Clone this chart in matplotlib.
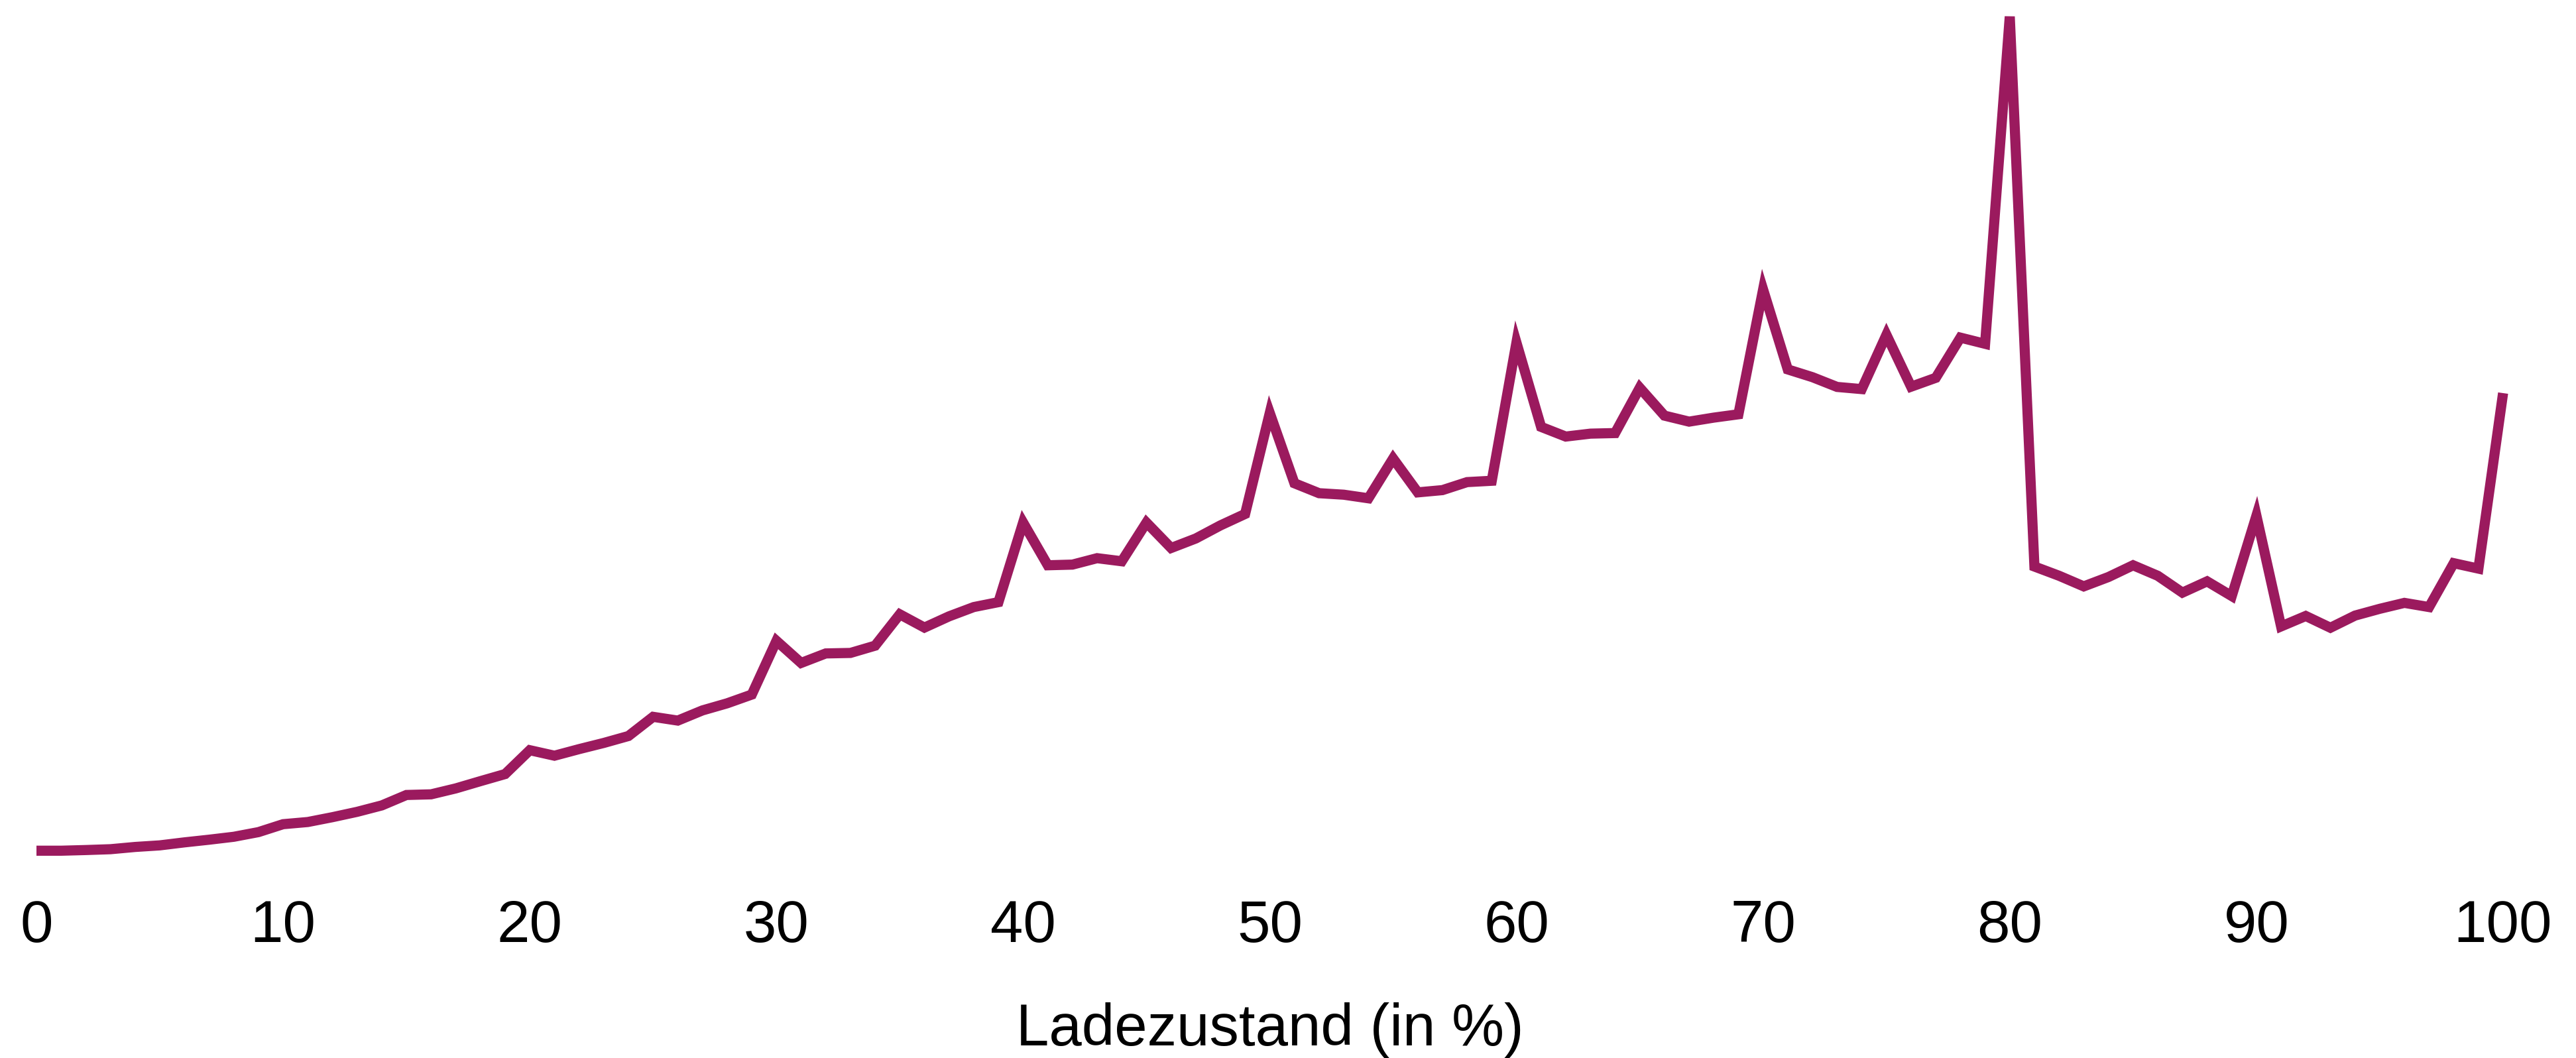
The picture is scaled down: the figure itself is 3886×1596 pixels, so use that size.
import matplotlib
matplotlib.use("Agg")
import matplotlib.pyplot as plt

plt.rcParams['font.family'] = ['Liberation Sans', 'DejaVu Sans']

# State of charge (%)
soc = list(range(0, 101))
# Relative value (arbitrary units, peak = 100)
values = [
    0.0, 0.0, 0.08, 0.18, 0.45, 0.64, 1.0, 1.32, 1.67, 2.23,
    3.18, 3.44, 4.02, 4.66, 5.43, 6.68, 6.76, 7.47, 8.34, 9.19,
    12.05, 11.39, 12.18, 12.92, 13.75, 16.05, 15.6, 16.82, 17.67, 18.72,
    25.16, 22.51, 23.65, 23.71, 24.58, 28.34, 26.75, 28.1, 29.21, 29.8,
    39.34, 34.22, 34.3, 35.07, 34.7, 39.34, 36.29, 37.43, 39.0, 40.37,
    52.48, 44.05, 42.86, 42.68, 42.25, 47.02, 42.96, 43.23, 44.19, 44.35,
    60.92, 50.81, 49.65, 50.0, 50.07, 55.5, 52.16, 51.44, 51.92, 52.32,
    67.28, 57.7, 56.77, 55.6, 55.34, 61.85, 55.63, 56.69, 61.51, 60.77,
    100.0, 34.07, 32.96, 31.69, 32.81, 34.22, 32.96, 30.94, 32.29, 30.53,
    40.16, 26.89, 28.14, 26.73, 28.19, 29.0, 29.71, 29.21, 34.47, 33.82,
    54.86,
]
xticks = [0, 10, 20, 30, 40, 50, 60, 70, 80, 90, 100]
xlabel = "Ladezustand (in %)"

W, H = 3887, 1596
fig = plt.figure(figsize=(W / 100, H / 100), dpi=100)
ax = fig.add_axes([55 / W, (H - 1283.3) / H, 3721 / W, 1258.3 / H])

ax.plot(soc, values, color="#9b1a5e", linewidth=11, solid_joinstyle="miter",
        solid_capstyle="butt", clip_on=False)

ax.set_xlim(0, 100)
ax.set_ylim(0, 100)
ax.set_xticks(xticks)
ax.set_xticklabels([str(t) for t in xticks])
ax.set_yticks([])
ax.tick_params(axis="x", length=0, pad=52, labelsize=64, labelcolor="black")
for s in ax.spines.values():
    s.set_visible(False)
ax.patch.set_alpha(0)

fig.text((55 + 3721 / 2) / W, (H - 1577) / H, xlabel, ha="center", va="baseline",
         fontsize=64, color="black")

fig.savefig("out.png", dpi=100, facecolor="white")
